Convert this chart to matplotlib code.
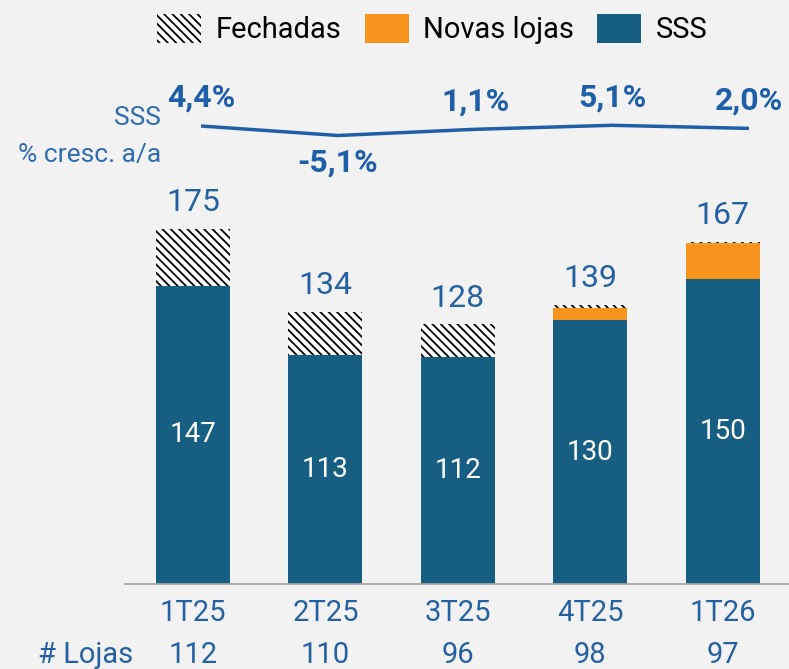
import numpy as np
import matplotlib
matplotlib.use('Agg')
import matplotlib.pyplot as plt
from matplotlib.patches import Patch

plt.rcParams['font.family'] = ['Roboto', 'DejaVu Sans']
plt.rcParams['hatch.linewidth'] = 1.3

trimestres = ['1T25', '2T25', '3T25', '4T25', '1T26']
lojas = [112, 110, 96, 98, 97]
sss = [147, 113, 112, 130, 150]
novas = [0, 0, 0, 6, 18]
fechadas = [28, 21, 16, 1.5, 0.7]
totais = [175, 134, 128, 139, 167]
sss_pct = [4.4, -5.1, 1.1, 5.1, 2.0]
sss_pct_lbl = ['4,4%', '-5,1%', '1,1%', '5,1%', '2,0%']

azul_bar = '#175f82'
laranja = '#f7941d'
azul_txt = '#2561a0'
azul_linha = '#1f5fa8'
fundo = '#f2f2f2'

W, H = 789, 669
fig = plt.figure(figsize=(W / 100, H / 100), dpi=100, facecolor=fundo)

# barras
ax = fig.add_axes([125 / W, (H - 584) / H, 1 - 125 / W, (584 - 180) / H])
ax.set_facecolor('none')
x = np.arange(len(trimestres))
w = 0.56
ax.bar(x, sss, w, color=azul_bar, zorder=2)
ax.bar(x, novas, w, bottom=sss, color=laranja, zorder=2)
base2 = np.array(sss) + np.array(novas)
ax.bar(x, fechadas, w, bottom=base2, color='white', edgecolor='black',
       hatch='\\\\\\\\', linewidth=0, zorder=2)
topo = base2 + np.array(fechadas)

ax.set_xlim(-0.513, 4.5)
ax.set_ylim(0, 404 / 2.03)
for s in ['top', 'right', 'left']:
    ax.spines[s].set_visible(False)
ax.spines['bottom'].set_color('#a6a6a6')
ax.spines['bottom'].set_linewidth(1.3)
ax.set_xticks([])
ax.set_yticks([])

for i in range(len(trimestres)):
    ax.annotate(str(sss[i]), (x[i], sss[i] / 2), ha='center', va='center',
                color='white', fontsize=20)
    ax.annotate(str(totais[i]), (x[i], topo[i]), xytext=(0, 26),
                textcoords='offset pixels', ha='center', va='center',
                color=azul_txt, fontsize=23)
    ax.annotate(trimestres[i], (x[i], 0), xytext=(0, -29),
                textcoords='offset pixels', ha='center', va='center',
                color=azul_txt, fontsize=21)
    ax.annotate(str(lojas[i]), (x[i], 0), xytext=(0, -71),
                textcoords='offset pixels', ha='center', va='center',
                color=azul_txt, fontsize=21)

fig.text(133 / W, 1 - 655 / H, '# Lojas', ha='right', va='center',
         color=azul_txt, fontsize=21)

# linha SSS %
ax2 = fig.add_axes([201 / W, (H - 160) / H, (749 - 201) / W, 70 / H])
ax2.set_facecolor('none')
ax2.plot(range(len(sss_pct)), sss_pct, color=azul_linha, lw=2.5,
         solid_capstyle='butt')
ax2.set_xlim(0, 4)
ax2.set_ylim(-29.6, 40.4)
ax2.axis('off')
for i, (v, t) in enumerate(zip(sss_pct, sss_pct_lbl)):
    dy = 28 if v >= 0 else -27
    ax2.annotate(t, (i, v), xytext=(0, dy), textcoords='offset pixels',
                 ha='center', va='center', color=azul_linha,
                 fontsize=23, fontweight='bold')

fig.text(161 / W, 1 - 118 / H, 'SSS', ha='right', va='center',
         color='#2f6db0', fontsize=19)
fig.text(161 / W, 1 - 155 / H, '% cresc. a/a', ha='right', va='center',
         color='#2f6db0', fontsize=19)

handles = [Patch(facecolor='white', edgecolor='black', hatch='\\\\\\\\', linewidth=0),
           Patch(facecolor=laranja),
           Patch(facecolor=azul_bar)]
fig.legend(handles, ['Fechadas', 'Novas lojas', 'SSS'], ncol=3,
           loc='center', bbox_to_anchor=(0.548, 1 - 29 / H), frameon=False,
           fontsize=21, handlelength=1.5, handleheight=1.15,
           handletextpad=0.5, columnspacing=0.8)

fig.savefig('out.png', dpi=100, facecolor=fundo)
